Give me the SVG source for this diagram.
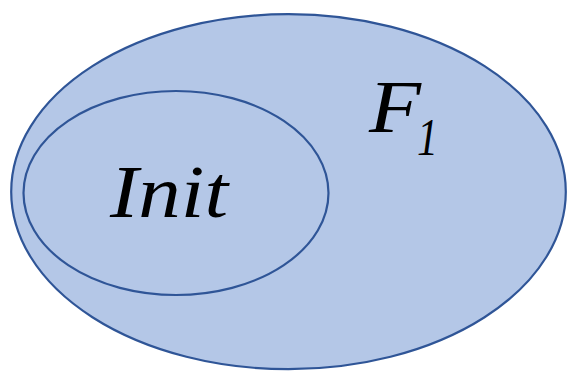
<svg xmlns="http://www.w3.org/2000/svg" width="567" height="371" viewBox="0 0 567 371">
<style>
.set{fill:#B4C7E7;stroke:#2F5597;stroke-width:2.2}
.lbl{font-family:"Liberation Serif","DejaVu Serif",serif;font-style:italic;fill:#000}
</style>
<rect width="567" height="371" fill="#fff"/>
<g id="F1">
<ellipse class="set" cx="288.5" cy="191.7" rx="277.3" ry="177.5"/>
<text class="lbl" x="369" y="131.7" font-size="74" textLength="52" lengthAdjust="spacingAndGlyphs">F</text>
<text class="lbl" x="417" y="155" font-size="52" textLength="21" lengthAdjust="spacingAndGlyphs">1</text>
</g>
<g id="Init">
<ellipse class="set" cx="176" cy="193" rx="152.5" ry="102"/>
<text class="lbl" x="110" y="217" font-size="74" textLength="118" lengthAdjust="spacingAndGlyphs">Init</text>
</g>
<g id="connectors"/>
</svg>
